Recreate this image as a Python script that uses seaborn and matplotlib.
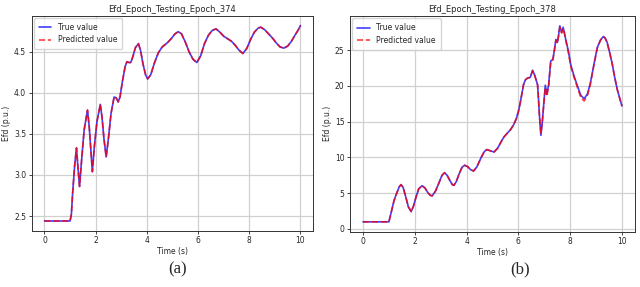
import matplotlib
matplotlib.use("Agg")
import matplotlib.pyplot as plt
import seaborn as sns
import pandas as pd

sns.set_style("ticks")
plt.rcParams["font.family"] = ["DejaVu Sans"]

# Epoch 374 : temps (s) et Efd (p.u.)
t_374 = [0.0, 1.0, 1.05, 1.1, 1.18, 1.25, 1.30, 1.37, 1.45, 1.55, 1.68, 1.75,
         1.87, 1.95, 2.05, 2.18, 2.25, 2.32, 2.41, 2.5, 2.6, 2.72, 2.8, 2.88,
         2.95, 3.05, 3.15, 3.22, 3.3, 3.37, 3.45, 3.55, 3.67, 3.75, 3.85, 3.95,
         4.03, 4.15, 4.3, 4.45, 4.6, 4.8, 4.95, 5.1, 5.23, 5.35, 5.5, 5.65,
         5.8, 5.95, 6.1, 6.25, 6.4, 6.55, 6.7, 6.85, 7.0, 7.15, 7.3, 7.45,
         7.6, 7.75, 7.9, 8.05, 8.2, 8.35, 8.45, 8.6, 8.75, 8.9, 9.05, 9.2,
         9.35, 9.5, 9.65, 9.8, 9.9, 10.0]
true_374 = [2.44, 2.44, 2.52, 2.78, 3.12, 3.33, 3.12, 2.86, 3.18, 3.55, 3.79, 3.58,
            3.04, 3.35, 3.65, 3.86, 3.70, 3.45, 3.22, 3.45, 3.75, 3.95, 3.94, 3.89,
            3.95, 4.15, 4.32, 4.38, 4.37, 4.37, 4.44, 4.55, 4.60, 4.52, 4.35, 4.22,
            4.17, 4.22, 4.37, 4.49, 4.56, 4.61, 4.66, 4.72, 4.745, 4.72, 4.62, 4.50,
            4.41, 4.37, 4.45, 4.60, 4.70, 4.76, 4.78, 4.74, 4.69, 4.66, 4.63, 4.58,
            4.52, 4.48, 4.54, 4.65, 4.74, 4.79, 4.80, 4.77, 4.72, 4.67, 4.61, 4.56,
            4.545, 4.57, 4.63, 4.71, 4.76, 4.82]
pred_374 = [2.44, 2.44, 2.52, 2.78, 3.12, 3.33, 3.12, 2.86, 3.18, 3.55, 3.79, 3.58,
            3.04, 3.35, 3.65, 3.86, 3.70, 3.45, 3.22, 3.45, 3.75, 3.95, 3.94, 3.89,
            3.95, 4.15, 4.32, 4.38, 4.37, 4.37, 4.44, 4.55, 4.60, 4.52, 4.35, 4.22,
            4.17, 4.22, 4.37, 4.49, 4.56, 4.61, 4.66, 4.72, 4.745, 4.72, 4.62, 4.50,
            4.41, 4.37, 4.45, 4.60, 4.70, 4.76, 4.78, 4.74, 4.69, 4.66, 4.63, 4.58,
            4.52, 4.48, 4.54, 4.65, 4.74, 4.79, 4.80, 4.77, 4.72, 4.67, 4.61, 4.56,
            4.545, 4.57, 4.63, 4.71, 4.76, 4.82]

# Epoch 378
t_378 = [0.0, 1.0, 1.1, 1.2, 1.3, 1.4, 1.47, 1.55, 1.65, 1.75, 1.86, 1.95,
         2.05, 2.15, 2.28, 2.4, 2.5, 2.6, 2.67, 2.8, 2.95, 3.05, 3.15, 3.25,
         3.35, 3.45, 3.51, 3.6, 3.7, 3.82, 3.92, 4.05, 4.15, 4.27, 4.4, 4.55,
         4.68, 4.78, 4.9, 5.06, 5.2, 5.35, 5.45, 5.55, 5.7, 5.82, 5.92, 6.0,
         6.07, 6.13, 6.2, 6.28, 6.36, 6.46, 6.55, 6.62, 6.68, 6.74, 6.78, 6.82,
         6.87, 6.92, 6.97, 7.04, 7.1, 7.17, 7.25, 7.33, 7.38, 7.45, 7.51, 7.56,
         7.6, 7.67, 7.73, 7.78, 7.83, 7.93, 8.02, 8.15, 8.28, 8.41, 8.54, 8.67,
         8.78, 8.86, 8.96, 9.05, 9.17, 9.28, 9.35, 9.43, 9.53, 9.63, 9.72, 9.82,
         9.92, 10.0]
true_378 = [1.0, 1.0, 2.5, 4.0, 5.0, 5.9, 6.2, 5.8, 4.5, 3.1, 2.43, 3.2,
            4.5, 5.6, 6.05, 5.7, 5.1, 4.7, 4.63, 5.3, 6.6, 7.5, 7.86, 7.5,
            6.8, 6.2, 6.1, 6.6, 7.6, 8.6, 8.91, 8.7, 8.3, 8.1, 8.7, 9.9,
            10.8, 11.1, 10.95, 10.76, 11.3, 12.3, 12.9, 13.3, 13.9, 14.6, 15.4, 16.4,
            17.6, 18.8, 20.2, 20.9, 21.1, 21.2, 22.2, 21.6, 20.9, 20.2, 18.0, 15.5,
            13.1, 14.8, 17.0, 20.1, 18.8, 20.2, 23.5, 23.7, 24.8, 26.5, 26.1, 27.3,
            28.4, 27.5, 28.2, 27.4, 26.5, 24.9, 23.0, 21.4, 20.0, 18.7, 18.2, 18.9,
            20.4, 21.9, 23.8, 25.4, 26.4, 26.9, 26.7, 26.1, 24.6, 23.0, 21.2, 19.5,
            18.2, 17.2]
pred_378 = [1.0, 1.0, 2.5, 4.0, 5.0, 5.9, 6.2, 5.8, 4.5, 3.1, 2.43, 3.2,
            4.5, 5.6, 6.05, 5.7, 5.1, 4.7, 4.63, 5.3, 6.6, 7.5, 7.86, 7.5,
            6.8, 6.2, 6.1, 6.6, 7.6, 8.6, 8.91, 8.7, 8.3, 8.1, 8.7, 9.9,
            10.8, 11.1, 10.95, 10.76, 11.3, 12.3, 12.9, 13.3, 13.9, 14.6, 15.4, 16.4,
            17.6, 18.8, 20.2, 20.9, 21.1, 21.2, 22.1, 21.6, 20.9, 20.2, 18.0, 15.6,
            13.4, 14.8, 17.0, 19.8, 18.6, 20.0, 23.4, 23.6, 24.6, 26.4, 26.0, 27.1,
            28.2, 27.4, 28.0, 27.3, 26.4, 24.7, 22.8, 21.2, 19.8, 18.4, 17.9, 18.7,
            20.2, 21.8, 23.7, 25.3, 26.4, 26.9, 26.7, 26.0, 24.6, 23.0, 21.2, 19.5,
            18.2, 17.2]

panels = [
    ("Efd_Epoch_Testing_Epoch_374", t_374, true_374, pred_374, [0.0495, 0.196, 0.440, 0.749], "(a)", 0.278),
    ("Efd_Epoch_Testing_Epoch_378", t_378, true_378, pred_378, [0.547, 0.193, 0.445, 0.751], "(b)", 0.813),
]

fig = plt.figure(figsize=(6.4, 2.87), dpi=100)

for title, t, true_v, pred_v, rect, tag, tag_x in panels:
    df = pd.DataFrame({"Time": t, "True": true_v, "Pred": pred_v})
    ax = fig.add_axes(rect)
    sns.lineplot(data=df, x="Time", y="True", ax=ax, color="blue", alpha=0.75,
                 linewidth=1.2, label="True value")
    sns.lineplot(data=df, x="Time", y="Pred", ax=ax, color="red", alpha=0.75,
                 linewidth=1.2, linestyle="--", dashes=(2.2, 0.9), label="Predicted value")
    ax.set_title(title, fontsize=6, pad=3)
    ax.set_xlabel("Time (s)", fontsize=5.5, labelpad=1.5)
    ax.set_ylabel("Efd (p.u.)", fontsize=5.5, labelpad=2)
    ax.set_xticks([0, 2, 4, 6, 8, 10])
    ax.tick_params(labelsize=5.5, length=2.5, width=0.6, pad=1.5)
    ax.grid(True, color="#d0d0d0", linewidth=0.9)
    for sp in ax.spines.values():
        sp.set_linewidth(0.7)
        sp.set_color("#333333")
    ax.legend(loc="upper left", fontsize=5.5, handlelength=1.6, borderpad=0.65,
              labelspacing=0.45, handletextpad=0.9, borderaxespad=0.3,
              framealpha=0.8, edgecolor="#cccccc")
    fig.text(tag_x, 0.063, tag, family="Liberation Serif", fontsize=12,
             ha="center", va="center")

fig.savefig("out.png", dpi=100)
